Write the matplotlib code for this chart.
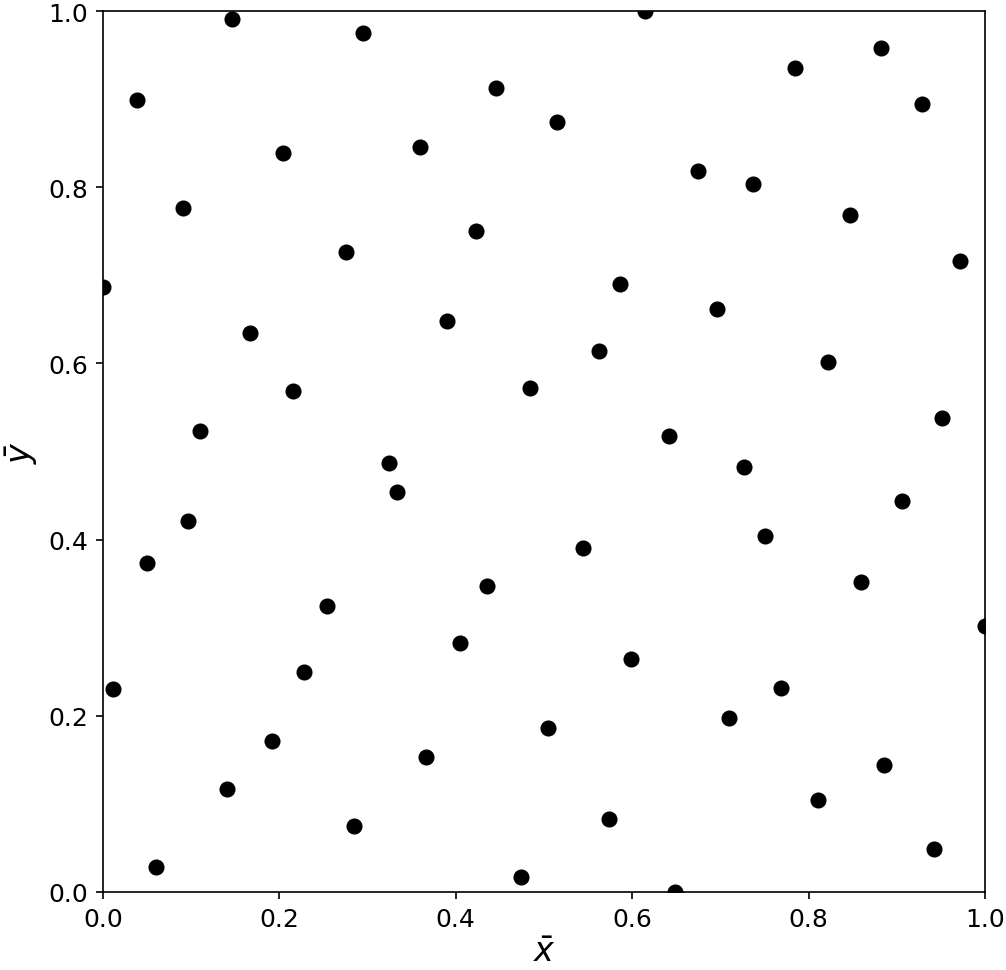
import matplotlib
matplotlib.use("Agg")
import matplotlib.pyplot as plt

# point coordinates
x_vals = [0.146, 0.295, 0.039, 0.204, 0.091, 0.275, 0.000,
          0.615, 0.446, 0.515, 0.359, 0.423, 0.586,
          0.882, 0.785, 0.929, 0.675, 0.737, 0.847, 0.972, 0.696,
          0.167, 0.215, 0.110, 0.324, 0.096, 0.050,
          0.390, 0.562, 0.484, 0.642, 0.333, 0.544, 0.435,
          0.822, 0.951, 0.727, 0.906, 0.750, 0.859,
          0.254, 0.011, 0.228, 0.192, 0.141, 0.285, 0.060,
          0.405, 0.599, 0.505, 0.366, 0.574, 0.474, 0.649,
          1.000, 0.769, 0.710, 0.885, 0.811, 0.942]
y_vals = [0.991, 0.975, 0.899, 0.839, 0.777, 0.727, 0.687,
          1.000, 0.913, 0.874, 0.846, 0.750, 0.690,
          0.958, 0.935, 0.894, 0.819, 0.804, 0.768, 0.716, 0.662,
          0.635, 0.569, 0.523, 0.487, 0.421, 0.373,
          0.648, 0.614, 0.572, 0.518, 0.454, 0.391, 0.347,
          0.602, 0.538, 0.482, 0.444, 0.404, 0.352,
          0.325, 0.230, 0.250, 0.172, 0.117, 0.075, 0.028,
          0.283, 0.265, 0.186, 0.153, 0.083, 0.017, 0.000,
          0.302, 0.232, 0.198, 0.144, 0.105, 0.049]

fig = plt.figure(figsize=(6.713, 6.473), dpi=150)
ax = fig.add_axes([0.1023, 0.0803, 0.8759, 0.9073])

ax.scatter(x_vals, y_vals, s=45, color='black', zorder=3)

ax.set_xlim(0, 1)
ax.set_ylim(0, 1)
ax.set_xticks([0.0, 0.2, 0.4, 0.6, 0.8, 1.0])
ax.set_yticks([0.0, 0.2, 0.4, 0.6, 0.8, 1.0])
ax.tick_params(labelsize=12)
ax.set_xlabel(r'$\bar{x}$', fontsize=16, labelpad=2)
ax.set_ylabel(r'$\bar{y}$', fontsize=16, labelpad=4)

fig.savefig('out.png', dpi=150)
